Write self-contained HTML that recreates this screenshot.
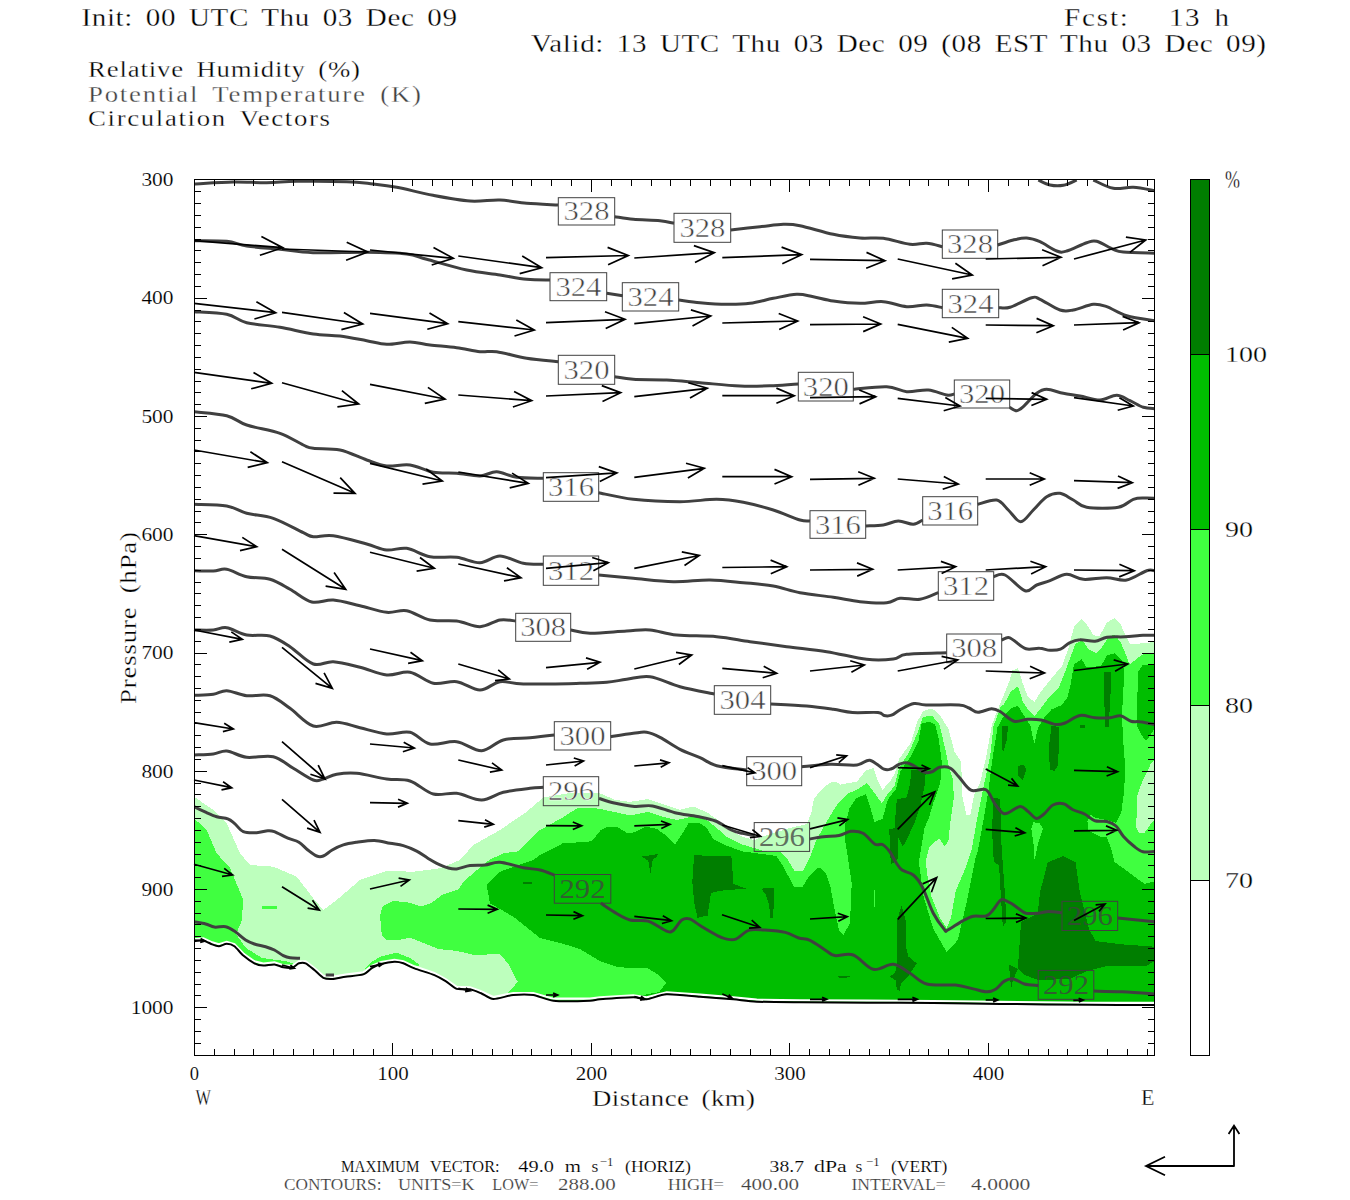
<!DOCTYPE html>
<html><head><meta charset="utf-8"><title>Cross section</title>
<style>html,body{margin:0;padding:0;background:#fff;}body{width:1350px;height:1200px;position:relative;overflow:hidden;font-family:"Liberation Serif",serif;}</style>
</head><body>
<svg width="1350" height="1200" viewBox="0 0 1350 1200" style="position:absolute;left:0;top:0" font-family="'Liberation Serif', serif">
<rect width="1350" height="1200" fill="#fff"/>
<clipPath id="cp"><rect x="194.5" y="179.5" width="960.0" height="876.0"/></clipPath>
<g clip-path="url(#cp)" shape-rendering="crispEdges">
<polygon fill="#BDFFBD" points="194.0,796.7 213.3,810.0 226.7,823.3 240.0,853.3 250.0,865.0 273.3,866.7 296.7,876.7 313.3,898.3 323.3,910.0 336.7,900.0 360.0,880.0 386.7,871.0 413.3,871.7 440.0,868.3 460.0,860.0 473.3,845.0 500.0,830.0 526.7,811.7 543.3,797.5 570.0,793.0 599.0,792.9 614.3,799.6 630.0,801.9 648.0,799.0 666.0,805.3 679.5,809.8 693.0,806.4 706.5,812.0 717.8,819.9 726.8,828.9 742.5,836.8 754.2,840.1 770.0,834.0 790.0,828.0 807.0,824.0 811.5,812.0 813.8,799.3 819.6,791.6 829.3,783.0 834.8,781.6 840.5,784.5 857.0,781.5 866.0,770.3 873.5,768.0 878.0,781.5 882.5,789.8 890.0,781.5 894.5,774.0 899.0,759.0 911.0,742.5 917.0,722.3 923.0,711.0 929.0,709.3 933.5,709.5 941.0,717.0 948.5,729.0 954.5,751.5 961.3,762.0 962.0,795.0 966.5,815.3 970.3,815.3 974.0,795.0 980.0,783.0 986.0,757.5 992.0,724.5 999.5,705.0 1003.5,696.0 1009.5,681.0 1012.5,670.5 1017.8,668.3 1023.0,684.0 1027.5,696.0 1034.3,702.0 1041.0,691.5 1053.0,676.5 1062.0,666.0 1068.0,649.5 1074.0,627.0 1081.5,618.8 1087.5,625.5 1093.5,635.3 1099.5,636.0 1107.0,622.5 1114.5,618.0 1120.5,624.0 1126.5,637.5 1130.3,644.3 1140.0,643.5 1154.5,642.0 1154.5,1004.9 1154.4,1004.9 1090.0,1004.8 1000.0,1003.9 933.3,1003.0 866.7,1002.7 800.0,1002.3 756.7,1001.7 733.3,999.3 700.0,996.7 666.7,994.3 646.7,999.3 633.3,997.3 600.0,999.3 590.0,1000.7 553.3,1000.7 533.3,995.0 513.3,995.0 493.3,999.0 481.1,993.3 470.0,989.3 456.7,988.9 445.6,981.1 434.4,975.1 414.4,968.4 403.3,963.3 394.4,961.8 381.1,964.0 372.2,967.8 363.3,974.4 345.6,976.7 332.2,978.9 323.3,977.8 314.4,970.0 305.6,963.3 298.9,963.3 292.2,967.8 283.3,967.3 274.4,964.4 263.3,965.6 254.4,963.3 243.3,955.6 234.4,946.2 226.7,943.8 218.9,946.2 212.2,944.4 203.3,940.4 194.0,941.3"/>
<polygon fill="#40FF40" points="194.0,818.3 206.7,830.0 216.7,853.3 230.0,868.0 243.3,900.0 241.7,921.0 236.0,934.0 246.0,948.0 262.0,958.0 285.0,961.0 300.0,966.0 293.3,967.3 273.3,965.0 256.7,964.0 246.7,955.0 233.3,945.0 220.0,946.0 205.0,941.7 194.0,942.7"/>
<polygon fill="#40FF40" points="262.0,906.0 277.0,906.0 277.0,909.0 262.0,909.0"/>
<polygon fill="#40FF40" points="361.7,973.0 370.0,963.0 380.0,956.7 396.7,952.7 410.0,958.0 420.0,965.0 413.3,968.3 395.0,961.7 376.7,966.0 363.3,974.3"/>
<polygon fill="#40FF40" points="392.4,901.1 406.7,902.0 420.9,906.4 431.6,902.9 442.2,894.9 458.2,889.6 463.6,881.6 476.0,870.9 490.2,859.3 504.4,853.1 518.7,851.3 531.1,838.9 540.0,830.0 562.5,817.6 578.3,807.5 598.5,808.6 614.3,812.0 630.0,815.4 648.0,812.0 666.0,817.6 677.3,819.9 693.0,816.5 706.5,819.9 717.8,828.9 726.8,836.8 742.5,844.6 754.2,848.0 765.0,851.4 780.8,852.5 787.5,859.3 794.3,870.5 803.3,870.5 810.0,857.0 816.8,839.0 830.3,815.5 837.5,804.0 848.0,793.5 857.0,789.8 866.8,783.0 875.0,793.5 881.8,803.3 887.0,795.0 894.5,786.0 899.0,768.0 909.5,751.5 918.5,730.5 923.0,717.0 932.0,715.5 939.5,724.5 945.5,750.0 948.5,765.0 953.0,780.0 953.8,798.0 950.0,825.0 948.5,840.0 944.8,846.8 939.5,838.5 933.5,843.0 929.0,847.5 926.0,859.5 926.7,871.1 931.1,895.6 940.0,917.8 946.7,927.8 951.1,917.8 955.6,891.1 965.5,868.0 972.0,848.0 976.0,825.0 980.5,802.0 985.0,780.0 990.0,757.0 993.5,726.0 1001.0,706.0 1003.5,705.0 1011.0,691.5 1017.8,686.3 1023.0,702.0 1029.0,711.0 1034.3,716.3 1041.0,708.0 1050.0,696.0 1059.0,687.0 1065.0,672.0 1071.0,655.5 1075.5,643.5 1082.3,640.5 1089.0,649.5 1096.5,653.3 1102.5,646.5 1108.5,636.8 1114.5,634.5 1120.5,642.0 1125.0,652.5 1129.5,664.5 1137.0,658.5 1144.5,653.3 1154.5,653.3 1154.5,1004.9 1154.4,1004.9 1090.0,1004.8 1000.0,1003.9 933.3,1003.0 866.7,1002.7 800.0,1002.3 756.7,1001.7 733.3,999.3 700.0,996.7 666.7,994.3 646.7,999.3 633.3,997.3 600.0,999.3 590.0,1000.7 553.3,1000.7 533.3,995.0 513.3,995.0 508.0,996.1 508.0,992.7 517.8,982.0 508.0,963.3 499.1,953.6 476.0,955.3 456.4,950.9 438.7,949.1 420.9,942.0 410.2,937.6 397.8,940.2 387.1,940.2 381.8,934.9 380.0,915.3 382.7,906.4"/>
<polygon fill="#00BE00" points="540.0,854.8 562.5,843.5 591.8,841.3 600.8,830.0 607.5,826.6 616.5,826.6 627.8,833.4 634.5,832.3 645.8,826.6 657.0,828.9 666.0,835.6 675.0,844.6 681.8,834.5 688.5,823.3 699.8,823.3 706.5,827.8 713.3,839.0 726.8,845.8 742.5,851.4 756.0,853.2 776.3,855.9 783.0,866.0 794.3,887.4 802.1,887.4 810.0,875.0 819.0,867.1 825.8,872.8 830.3,886.3 834.8,911.0 839.0,930.0 843.3,935.0 850.0,923.3 851.7,883.3 846.7,850.0 845.0,840.0 845.0,825.0 849.5,808.5 856.3,798.0 866.0,794.3 869.8,805.5 874.3,822.0 882.5,819.0 887.8,799.5 896.0,789.0 900.5,771.0 911.0,756.0 918.5,741.0 921.5,723.8 929.0,721.5 935.0,724.5 938.8,739.5 941.8,762.0 940.3,783.0 933.5,802.5 929.0,817.5 924.5,828.0 920.0,855.0 918.9,862.2 923.3,895.6 933.3,928.9 946.7,952.2 957.8,940.0 966.7,902.2 975.6,857.8 978.0,850.0 984.0,817.0 988.5,790.0 992.3,760.0 997.5,727.5 1005.0,714.0 1011.0,708.0 1017.8,705.8 1023.0,714.0 1030.5,726.0 1034.3,744.0 1038.0,727.5 1045.5,715.5 1051.5,709.5 1062.0,705.0 1067.3,697.5 1071.0,682.5 1074.0,664.5 1081.5,659.3 1086.8,667.5 1101.0,666.0 1107.0,655.5 1114.5,653.3 1122.0,660.0 1124.3,672.0 1122.0,714.0 1122.8,735.0 1125.0,765.0 1124.3,790.0 1121.3,812.5 1116.0,823.0 1107.0,820.0 1095.0,817.8 1090.5,814.8 1087.5,821.5 1087.5,830.5 1099.5,836.5 1107.0,837.3 1111.5,850.0 1114.5,862.0 1125.0,869.5 1137.0,878.5 1144.5,883.8 1154.5,881.5 1154.5,1004.9 1154.4,1004.9 1090.0,1004.8 1000.0,1003.9 933.3,1003.0 866.7,1002.7 800.0,1002.3 756.7,1001.7 733.3,999.3 700.0,996.7 666.7,994.3 646.7,999.3 641.0,998.4 641.3,995.4 659.3,992.0 666.0,983.0 657.0,974.0 648.0,968.4 618.8,967.3 600.8,961.6 580.5,949.3 562.5,943.6 540.0,938.0 513.3,916.7 490.0,903.3 486.7,885.0 500.0,871.7 533.3,860.0"/>
<polygon fill="#00BE00" points="1154.5,664.5 1143.0,664.5 1137.8,672.0 1137.0,726.0 1141.5,735.0 1146.0,741.0 1150.5,735.0 1154.5,729.0"/>
<polygon fill="#BDFFBD" points="1154.5,760.0 1150.5,764.5 1143.0,779.5 1137.0,796.0 1136.3,827.5 1139.3,833.5 1144.5,832.8 1150.5,824.5 1154.5,820.0"/>
<polygon fill="#40FF40" points="1033.5,822.3 1039.5,823.0 1043.0,828.3 1038.0,844.0 1034.6,860.5 1033.5,844.0 1031.3,829.0"/>
<polygon fill="#40FF40" points="873.5,890.0 874.7,890.0 874.7,907.0 873.5,907.0"/>
<polygon fill="#007E00" points="641.9,856.5 658.6,854.0 656.0,857.5 652.8,859.5 650.5,872.8 648.3,861.0 645.0,858.8"/>
<polygon fill="#007E00" points="694.1,855.4 731.3,855.9 733.5,884.0 745.9,888.5 720.0,890.8 711.0,893.0 707.6,915.5 697.5,917.8 694.1,902.0 692.3,881.8"/>
<polygon fill="#007E00" points="761.4,888.6 774.0,888.0 773.3,917.5 770.5,917.5 769.0,905.0 766.0,895.0"/>
<polygon fill="#007E00" points="523.0,882.0 532.0,882.0 532.0,883.5 523.0,883.5"/>
<polygon fill="#007E00" points="911.0,769.5 926.0,769.5 924.5,786.0 920.0,807.0 915.5,820.5 908.0,837.0 902.8,846.8 898.3,837.8 897.5,859.5 890.8,864.8 889.3,829.5 894.5,828.0 896.8,799.5 906.5,797.3 910.3,783.0"/>
<polygon fill="#007E00" points="901.5,905.5 905.6,920.0 905.6,944.8 908.5,956.7 916.7,963.3 908.5,975.9 901.1,983.3 899.6,990.7 896.7,989.3 895.9,980.4 889.3,976.7 895.2,973.0 897.4,962.6 897.4,919.6"/>
<polygon fill="#007E00" points="838.0,976.3 850.0,976.3 846.0,978.0 840.0,978.0"/>
<polygon fill="#007E00" points="1002.0,726.0 1008.0,726.0 1006.8,740.0 1002.6,753.8"/>
<polygon fill="#007E00" points="1017.5,765.8 1023.5,765.0 1026.5,768.8 1022.8,780.0 1018.3,775.5"/>
<polygon fill="#007E00" points="992.8,798.0 1000.3,798.8 1001.3,842.5 1005.0,895.0 1006.5,922.0 1002.8,926.5 1001.3,902.5 999.0,865.0 993.8,862.0 992.3,835.0"/>
<polygon fill="#007E00" points="1051.5,726.0 1059.0,726.8 1058.3,765.0 1054.5,771.0 1049.6,769.5 1049.3,744.0"/>
<polygon fill="#007E00" points="1104.0,671.7 1111.5,671.7 1110.0,705.0 1108.5,726.8 1104.8,726.8"/>
<polygon fill="#007E00" points="1080.0,725.3 1084.5,725.3 1084.5,728.3 1080.0,728.3"/>
<polygon fill="#007E00" points="1017.8,968.9 1021.1,922.2 1037.8,913.3 1040.0,892.2 1047.8,862.2 1063.3,856.0 1075.6,862.2 1080.0,893.3 1088.9,928.9 1095.6,941.1 1122.2,944.4 1154.5,946.7 1154.5,961.1 1146.7,965.6 1108.9,965.6 1086.7,971.1 1070.0,979.0 1038.0,980.0 1025.0,975.0"/>
<polygon fill="#007E00" points="1008.9,964.4 1017.8,968.9 1013.0,980.0 1011.1,988.9"/>
<polygon fill="#fff" points="194.0,941.3 203.3,940.4 212.2,944.4 218.9,946.2 226.7,943.8 234.4,946.2 243.3,955.6 254.4,963.3 263.3,965.6 274.4,964.4 283.3,967.3 292.2,967.8 298.9,963.3 305.6,963.3 314.4,970.0 323.3,977.8 332.2,978.9 345.6,976.7 363.3,974.4 372.2,967.8 381.1,964.0 394.4,961.8 403.3,963.3 414.4,968.4 434.4,975.1 445.6,981.1 456.7,988.9 470.0,989.3 481.1,993.3 493.3,999.0 513.3,995.0 533.3,995.0 553.3,1000.7 590.0,1000.7 600.0,999.3 633.3,997.3 646.7,999.3 666.7,994.3 700.0,996.7 733.3,999.3 756.7,1001.7 800.0,1002.3 866.7,1002.7 933.3,1003.0 1000.0,1003.9 1090.0,1004.8 1154.4,1004.9 1156.0,1060.0 192.0,1060.0"/>
</g>
<g clip-path="url(#cp)">
<polyline fill="none" stroke="#fff" stroke-width="2.2" points="194.0,939.3 203.3,938.4 212.2,942.4 218.9,944.2 226.7,941.8 234.4,944.2 243.3,953.6 254.4,961.3 263.3,963.6 274.4,962.4 283.3,965.3 292.2,965.8 298.9,961.3 305.6,961.3 314.4,968.0 323.3,975.8 332.2,976.9 345.6,974.7 363.3,972.4 372.2,965.8 381.1,962.0 394.4,959.8 403.3,961.3 414.4,966.4 434.4,973.1 445.6,979.1 456.7,986.9 470.0,987.3 481.1,991.3 493.3,997.0 513.3,993.0 533.3,993.0 553.3,998.7 590.0,998.7 600.0,997.3 633.3,995.3 646.7,997.3 666.7,992.3 700.0,994.7 733.3,997.3 756.7,999.7 800.0,1000.3 866.7,1000.7 933.3,1001.0 1000.0,1001.9 1090.0,1002.8 1154.4,1002.9"/>
<g fill="none" stroke="#404040" stroke-width="3" stroke-linejoin="round" stroke-linecap="butt">
<path d="M1038.3,180.0C1040.2,180.8 1045.8,184.1 1050.0,185.0C1054.2,185.9 1058.8,186.1 1063.3,185.3C1067.8,184.5 1074.5,180.9 1076.7,180.0"/>
<path d="M1093.3,180.0C1096.6,181.4 1106.6,187.1 1113.3,188.3C1120.0,189.5 1126.4,186.9 1133.3,187.3C1140.2,187.7 1151.1,190.1 1154.7,190.7"/>
<path d="M194.0,184.0C200.6,183.7 221.2,182.2 233.3,182.0C245.4,181.8 256.1,182.8 266.7,182.7C277.3,182.6 283.4,181.5 296.7,181.3C310.0,181.1 334.0,181.2 346.7,181.7C359.4,182.1 364.7,183.1 373.0,184.0C381.3,184.9 386.7,185.4 396.7,187.3C406.7,189.2 420.8,193.0 433.0,195.3C445.2,197.6 458.8,200.2 470.0,201.0C481.2,201.8 490.6,199.6 500.0,200.0C509.4,200.4 517.0,202.5 526.7,203.3C536.4,204.1 552.8,204.7 558.0,205.0"/>
<path d="M614.7,216.7C617.8,217.1 625.8,218.6 633.3,219.3C640.8,220.0 653.2,220.0 660.0,220.7C666.8,221.4 671.7,222.9 674.0,223.3"/>
<path d="M730.7,230.0C735.6,229.4 751.2,227.6 760.0,226.7C768.8,225.8 776.6,224.5 783.3,224.3C790.0,224.1 791.7,224.0 800.0,225.7C808.3,227.4 823.3,232.2 833.3,234.3C843.3,236.4 851.7,237.3 860.0,238.0C868.3,238.7 875.0,237.2 883.3,238.3C891.6,239.4 902.8,243.5 910.0,244.3C917.2,245.1 921.3,242.9 926.7,243.3C932.1,243.7 939.7,246.1 942.3,246.7"/>
<path d="M997.7,245.0C1000.3,244.2 1008.5,241.2 1013.3,240.0C1018.1,238.8 1022.2,237.7 1026.7,238.0C1031.2,238.3 1035.0,239.5 1040.0,241.7C1045.0,243.9 1052.2,249.4 1056.7,251.0C1061.2,252.6 1061.7,252.4 1066.7,251.0C1071.7,249.6 1081.7,244.3 1086.7,242.7C1091.7,241.1 1092.3,240.2 1096.7,241.3C1101.1,242.4 1108.9,247.5 1113.3,249.3C1117.7,251.1 1116.4,251.3 1123.3,252.0C1130.2,252.7 1149.5,253.1 1154.7,253.3"/>
<path d="M194.0,240.7C199.4,240.8 217.9,240.4 226.7,241.3C235.5,242.2 237.8,244.7 246.7,246.0C255.6,247.3 268.9,248.2 280.0,249.3C291.1,250.4 298.6,252.2 313.0,252.7C327.4,253.2 351.1,252.1 366.7,252.3C382.3,252.5 396.7,252.8 406.7,254.0C416.7,255.2 416.7,256.6 426.7,259.3C436.7,262.0 454.5,267.4 466.7,270.0C478.9,272.6 490.0,273.4 500.0,275.0C510.0,276.6 518.4,278.5 526.7,279.3C535.0,280.1 546.1,279.9 550.0,280.0"/>
<path d="M606.7,293.3L622.7,295.7"/>
<path d="M678.7,300.0C682.2,300.4 692.0,302.0 700.0,302.7C708.0,303.4 718.4,304.2 726.7,304.3C735.0,304.4 742.2,304.3 750.0,303.3C757.8,302.3 765.5,299.8 773.3,298.3C781.1,296.8 790.0,294.6 796.7,294.3C803.4,294.0 807.2,295.6 813.3,296.7C819.4,297.8 825.5,299.9 833.3,301.0C841.1,302.1 851.7,303.2 860.0,303.3C868.3,303.4 875.5,301.1 883.3,301.7C891.1,302.3 899.5,306.1 906.7,306.7C913.9,307.2 920.8,304.8 926.7,305.0C932.6,305.2 939.7,307.2 942.3,307.7"/>
<path d="M998.7,307.7C1000.6,307.6 1004.5,309.0 1010.0,307.3C1015.5,305.6 1026.7,299.0 1031.7,297.7C1036.7,296.4 1035.3,297.2 1040.0,299.3C1044.7,301.4 1054.5,308.2 1060.0,310.0C1065.5,311.8 1067.8,310.9 1073.3,310.0C1078.8,309.1 1087.7,304.9 1093.3,304.3C1098.9,303.8 1101.1,304.8 1106.7,306.7C1112.3,308.6 1118.7,313.4 1126.7,315.7C1134.7,318.0 1150.0,319.9 1154.7,320.7"/>
<path d="M194.0,311.7C199.4,312.1 217.9,312.5 226.7,314.3C235.5,316.1 237.8,320.5 246.7,322.7C255.6,324.9 268.9,325.4 280.0,327.3C291.1,329.2 303.3,332.6 313.3,334.0C323.3,335.4 331.1,334.9 340.0,336.0C348.9,337.1 358.9,339.3 366.7,340.7C374.5,342.1 379.5,344.1 386.7,344.3C393.9,344.5 402.8,341.9 410.0,342.0C417.2,342.1 422.2,344.1 430.0,345.0C437.8,345.9 448.4,346.6 456.7,347.7C465.0,348.8 473.3,351.0 480.0,351.7C486.7,352.4 488.9,350.6 496.7,351.7C504.5,352.8 516.4,356.6 526.7,358.3C537.0,360.0 553.0,361.1 558.3,361.7"/>
<path d="M614.7,376.7C617.8,377.1 624.6,378.8 633.3,379.3C642.0,379.9 655.6,379.4 666.7,380.0C677.8,380.6 687.8,381.7 700.0,382.7C712.2,383.7 727.8,385.5 740.0,386.0C752.2,386.5 763.6,386.0 773.3,385.7C783.0,385.4 794.1,384.3 798.3,384.0"/>
<path d="M853.3,389.3C858.9,388.9 877.8,386.3 886.7,386.7C895.6,387.1 899.8,391.1 906.7,391.7C913.6,392.2 921.6,389.4 928.3,390.0C935.0,390.6 942.4,394.3 946.7,395.0C951.0,395.7 953.0,394.2 954.3,394.0"/>
<path d="M1009.7,407.3C1010.9,407.9 1014.4,410.8 1016.7,410.7C1019.0,410.6 1020.0,409.6 1023.3,406.7C1026.6,403.8 1032.8,396.2 1036.7,393.3C1040.6,390.4 1042.3,389.3 1046.7,389.3C1051.1,389.3 1057.8,392.2 1063.3,393.3C1068.8,394.4 1073.9,394.9 1080.0,396.0C1086.1,397.1 1093.9,400.1 1100.0,400.0C1106.1,399.9 1111.7,395.2 1116.7,395.3C1121.7,395.4 1125.6,398.7 1130.0,400.7C1134.4,402.7 1139.2,406.0 1143.3,407.3C1147.4,408.6 1152.8,408.5 1154.7,408.7"/>
<path d="M194.0,411.7C199.4,412.4 217.9,413.5 226.7,415.7C235.5,417.9 237.8,422.1 246.7,425.0C255.6,427.9 270.6,430.0 280.0,433.3C289.4,436.6 297.8,442.5 303.3,445.0C308.9,447.5 307.2,447.5 313.3,448.3C319.4,449.1 331.1,448.1 340.0,450.0C348.9,451.9 358.9,457.3 366.7,460.0C374.5,462.7 379.5,465.2 386.7,466.0C393.9,466.8 402.2,463.9 410.0,465.0C417.8,466.1 425.5,470.9 433.3,472.3C441.1,473.7 448.9,472.7 456.7,473.3C464.5,473.9 473.3,476.3 480.0,476.0C486.7,475.7 490.6,471.5 496.7,471.7C502.8,471.9 508.9,476.2 516.7,477.3C524.5,478.4 538.9,478.1 543.3,478.3"/>
<path d="M598.7,492.7C604.5,493.8 619.8,497.8 633.3,499.3C646.8,500.8 666.1,501.7 680.0,501.7C693.9,501.7 706.2,499.2 716.7,499.3C727.2,499.4 733.9,500.5 743.3,502.3C752.7,504.1 763.8,507.1 773.3,510.0C782.8,513.0 793.9,518.2 800.0,520.0C806.1,521.8 808.3,520.8 810.0,521.0"/>
<path d="M865.7,526.0C868.6,525.8 877.9,525.8 883.3,525.0C888.7,524.2 893.3,521.1 898.3,521.0C903.3,520.9 909.2,524.5 913.3,524.3C917.4,524.1 921.1,520.7 922.7,520.0"/>
<path d="M977.7,504.3C980.9,503.6 991.6,499.1 996.7,500.0C1001.8,500.9 1004.3,506.4 1008.3,510.0C1012.3,513.6 1016.5,521.7 1020.7,521.7C1024.9,521.7 1029.0,514.2 1033.3,510.0C1037.6,505.8 1042.2,499.5 1046.7,496.7C1051.2,493.9 1055.6,492.8 1060.0,493.3C1064.4,493.9 1068.8,497.7 1073.3,500.0C1077.8,502.3 1079.2,506.1 1086.7,507.3C1094.2,508.5 1110.5,508.6 1118.3,507.3C1126.1,506.0 1128.8,500.9 1133.3,499.3C1137.8,497.8 1141.4,498.2 1145.0,498.0C1148.6,497.8 1153.1,498.2 1154.7,498.3"/>
<path d="M194.0,504.3C199.4,504.6 217.9,504.5 226.7,506.0C235.5,507.5 238.9,511.2 246.7,513.3C254.5,515.3 263.9,515.1 273.3,518.3C282.7,521.5 296.6,529.6 303.3,532.7C310.0,535.8 308.3,536.2 313.3,536.7C318.3,537.2 324.4,534.5 333.3,535.7C342.2,536.9 357.8,541.6 366.7,544.0C375.6,546.4 380.0,549.3 386.7,550.0C393.4,550.7 399.5,547.2 406.7,548.3C413.9,549.4 421.7,555.2 430.0,556.7C438.3,558.2 448.4,556.3 456.7,557.3C465.0,558.3 472.8,562.9 480.0,562.7C487.2,562.5 492.8,555.9 500.0,556.0C507.2,556.1 516.1,561.9 523.3,563.3C530.5,564.7 540.0,564.1 543.3,564.3"/>
<path d="M598.7,575.0C604.5,575.5 620.9,577.2 633.3,578.3C645.7,579.4 660.5,581.4 673.3,581.7C686.1,582.0 698.3,579.8 710.0,580.0C721.7,580.2 732.8,581.7 743.3,582.7C753.8,583.7 763.8,584.3 773.3,586.0C782.8,587.7 790.0,590.8 800.0,592.7C810.0,594.6 823.3,595.8 833.3,597.3C843.3,598.8 851.1,600.8 860.0,601.7C868.9,602.6 880.0,603.3 886.7,602.7C893.4,602.1 894.5,598.9 900.0,598.3C905.5,597.7 913.6,600.2 920.0,599.3C926.4,598.4 935.2,593.8 938.3,592.7"/>
<path d="M993.7,576.7C995.6,576.4 999.8,572.7 1005.0,575.0C1010.2,577.3 1019.7,589.0 1025.0,590.7C1030.3,592.4 1032.5,586.7 1036.7,585.0C1040.9,583.3 1045.0,582.5 1050.0,580.7C1055.0,578.9 1061.2,574.5 1066.7,574.3C1072.2,574.1 1076.6,578.7 1083.3,579.3C1090.0,579.9 1099.5,577.6 1106.7,577.7C1113.9,577.8 1120.0,581.2 1126.7,580.0C1133.4,578.8 1142.0,572.2 1146.7,570.7C1151.4,569.2 1153.4,570.7 1154.7,570.7"/>
<path d="M194.0,570.7C197.2,570.8 207.9,571.2 213.3,571.0C218.8,570.8 221.1,568.3 226.7,569.3C232.3,570.2 239.5,575.0 246.7,576.7C253.9,578.4 262.8,577.2 270.0,579.3C277.2,581.4 283.1,585.5 290.0,589.3C296.9,593.1 304.5,600.2 311.7,602.0C318.9,603.8 325.2,599.4 333.3,600.0C341.4,600.6 351.1,603.7 360.0,605.7C368.9,607.8 378.9,611.5 386.7,612.3C394.5,613.1 399.5,609.4 406.7,610.7C413.9,612.0 421.7,618.3 430.0,620.0C438.3,621.7 448.4,619.9 456.7,621.0C465.0,622.1 472.8,626.9 480.0,626.7C487.2,626.5 494.1,621.0 500.0,620.0C505.9,619.0 513.1,620.8 515.7,621.0"/>
<path d="M570.7,630.0C573.9,630.5 580.7,633.1 590.0,633.3C599.3,633.5 616.7,631.5 626.7,631.0C636.7,630.5 641.7,629.3 650.0,630.0C658.3,630.7 665.6,633.9 676.7,635.0C687.8,636.1 704.5,635.6 716.7,636.7C728.9,637.8 738.3,640.0 750.0,641.7C761.7,643.4 773.9,645.0 786.7,646.7C799.5,648.4 813.4,649.6 826.7,651.7C840.0,653.8 855.6,658.1 866.7,659.3C877.8,660.5 886.6,659.8 893.3,659.0C900.0,658.2 897.8,655.3 906.7,654.3C915.6,653.2 940.0,653.0 946.7,652.7"/>
<path d="M1001.7,640.0C1002.8,639.6 1006.2,637.4 1008.3,637.5C1010.3,637.6 1011.0,638.6 1014.0,640.5C1017.0,642.4 1021.8,647.5 1026.0,648.8C1030.2,650.1 1035.5,648.0 1039.5,648.3C1043.5,648.5 1046.5,650.1 1050.0,650.3C1053.5,650.4 1057.2,650.5 1060.5,649.2C1063.8,648.0 1066.2,644.4 1069.5,642.8C1072.8,641.2 1075.8,640.0 1080.0,639.8C1084.2,639.5 1090.5,641.7 1095.0,641.3C1099.5,640.9 1102.0,638.0 1107.0,637.2C1112.0,636.5 1119.0,637.1 1125.0,636.8C1131.0,636.5 1138.1,635.5 1143.0,635.3C1147.9,635.0 1152.6,635.3 1154.5,635.3"/>
<path d="M194.0,630.0C197.2,630.0 207.9,630.4 213.3,630.0C218.8,629.6 221.1,626.9 226.7,627.7C232.3,628.5 239.5,633.6 246.7,635.0C253.9,636.4 262.8,634.0 270.0,636.0C277.2,638.0 282.8,642.0 290.0,646.7C297.2,651.4 306.1,661.5 313.3,664.0C320.5,666.5 325.5,661.2 333.3,661.7C341.1,662.2 351.1,665.1 360.0,667.3C368.9,669.5 378.4,674.2 386.7,675.0C395.0,675.8 402.2,670.9 410.0,672.3C417.8,673.7 425.5,681.7 433.3,683.3C441.1,684.9 448.9,680.6 456.7,681.7C464.5,682.8 472.8,690.0 480.0,690.0C487.2,690.0 492.8,682.7 500.0,681.7C507.2,680.7 510.0,683.7 523.3,684.0C536.6,684.3 566.1,683.6 580.0,683.3C593.9,683.0 598.9,683.0 606.7,682.3C614.5,681.6 619.5,680.2 626.7,679.3C633.9,678.4 641.1,675.5 650.0,676.7C658.9,677.9 669.3,683.8 680.0,686.7C690.7,689.6 708.6,692.8 714.3,694.0"/>
<path d="M770.7,704.0C776.7,704.3 796.3,705.1 806.7,706.0C817.1,706.9 825.7,708.2 833.3,709.3C840.9,710.4 845.0,712.0 852.5,712.5C860.0,713.0 872.8,712.0 878.0,712.5C883.2,713.0 881.8,715.0 884.0,715.5C886.2,716.0 888.8,716.2 891.5,715.2C894.2,714.2 896.8,711.5 900.5,709.5C904.2,707.5 909.8,704.2 914.0,703.5C918.2,702.8 918.5,704.8 926.0,705.0C933.5,705.2 951.8,704.5 959.0,705.0C966.2,705.5 965.8,706.8 969.0,708.0C972.2,709.2 974.2,712.1 978.0,712.2C981.8,712.3 987.8,708.9 991.5,708.8C995.2,708.7 996.8,709.7 1000.5,711.8C1004.2,713.9 1009.5,720.0 1014.0,721.2C1018.5,722.5 1023.0,719.5 1027.5,719.3C1032.0,719.1 1036.2,719.1 1041.0,720.0C1045.8,720.9 1052.0,724.0 1056.0,724.5C1060.0,725.0 1061.0,724.5 1065.0,723.0C1069.0,721.5 1075.0,716.4 1080.0,715.5C1085.0,714.6 1090.0,717.4 1095.0,717.8C1100.0,718.2 1105.8,718.1 1110.0,717.8C1114.2,717.5 1117.0,715.2 1120.5,715.8C1124.0,716.4 1127.8,720.2 1131.0,721.2C1134.2,722.2 1136.1,721.2 1140.0,721.8C1143.9,722.3 1152.1,724.0 1154.5,724.5"/>
<path d="M194.0,695.3C197.2,695.1 207.9,695.1 213.3,694.3C218.8,693.5 221.1,690.5 226.7,690.7C232.3,690.9 239.5,694.9 246.7,695.7C253.9,696.5 262.8,693.6 270.0,695.7C277.2,697.8 282.8,703.2 290.0,708.3C297.2,713.3 305.5,723.7 313.3,726.0C321.1,728.3 328.9,722.0 336.7,722.3C344.5,722.6 351.7,725.8 360.0,727.7C368.3,729.7 378.4,733.2 386.7,734.0C395.0,734.8 402.8,730.6 410.0,732.3C417.2,734.0 422.2,742.4 430.0,744.0C437.8,745.6 448.1,740.6 456.7,741.7C465.3,742.8 473.9,751.0 481.7,750.7C489.5,750.4 495.2,742.2 503.3,740.0C511.4,737.8 521.5,738.5 530.0,737.7C538.5,736.9 550.2,735.5 554.3,735.0"/>
<path d="M610.7,736.7C614.5,736.1 627.3,734.0 633.3,733.3C639.3,732.6 642.2,731.6 646.7,732.3C651.2,733.0 654.5,734.5 660.0,737.3C665.5,740.1 673.3,745.9 680.0,749.3C686.7,752.7 693.9,755.0 700.0,757.7C706.1,760.4 708.9,763.7 716.7,765.7C724.5,767.8 741.7,769.3 746.7,770.0"/>
<path d="M801.7,766.7C806.4,766.3 820.8,764.6 830.0,764.3C839.2,764.0 850.4,765.7 857.0,765.0C863.6,764.3 865.3,759.5 869.8,760.2C874.3,760.9 880.4,767.8 884.0,769.2C887.6,770.6 889.0,769.6 891.5,768.8C894.0,768.0 896.5,765.3 899.0,764.3C901.5,763.3 904.0,762.5 906.5,762.8C909.0,763.0 911.0,764.2 914.0,765.8C917.0,767.4 921.5,771.2 924.5,772.2C927.5,773.2 929.5,772.6 932.0,771.8C934.5,771.0 936.5,767.9 939.5,767.3C942.5,766.7 946.8,766.4 950.0,768.0C953.2,769.6 955.5,773.3 959.0,777.0C962.5,780.7 966.5,788.1 971.0,790.2C975.5,792.3 982.0,787.5 986.0,789.8C990.0,792.1 992.2,800.1 995.0,804.0C997.8,807.9 1000.2,811.5 1002.5,813.0C1004.8,814.5 1005.6,813.8 1008.5,812.7C1011.4,811.6 1016.8,806.8 1020.0,806.5C1023.2,806.2 1024.8,809.0 1027.5,811.0C1030.2,813.0 1033.8,818.0 1036.5,818.5C1039.2,819.0 1041.2,816.2 1044.0,814.0C1046.8,811.8 1049.8,806.7 1053.0,805.0C1056.2,803.3 1060.2,803.0 1063.5,803.8C1066.8,804.5 1069.0,807.8 1072.5,809.5C1076.0,811.2 1080.8,812.1 1084.5,814.0C1088.2,815.9 1091.2,819.5 1095.0,820.8C1098.8,822.0 1103.5,820.6 1107.0,821.5C1110.5,822.4 1113.2,823.5 1116.0,826.0C1118.8,828.5 1120.5,833.1 1123.5,836.5C1126.5,839.9 1130.8,843.8 1134.0,846.3C1137.2,848.8 1139.6,850.9 1143.0,851.8C1146.4,852.7 1152.6,851.5 1154.5,851.5"/>
<path d="M194.0,755.0C197.2,754.8 207.9,754.7 213.3,754.0C218.8,753.3 221.1,750.5 226.7,751.0C232.3,751.5 238.9,756.3 246.7,757.3C254.5,758.2 265.5,754.9 273.3,756.7C281.1,758.5 286.6,764.4 293.3,768.3C300.0,772.2 308.3,778.2 313.3,780.0C318.3,781.8 319.4,780.0 323.3,779.0C327.2,778.0 331.1,775.2 336.7,774.3C342.3,773.3 348.4,772.5 356.7,773.3C365.0,774.1 377.8,777.7 386.7,779.0C395.6,780.3 402.2,778.5 410.0,781.0C417.8,783.5 425.5,792.0 433.3,794.0C441.1,796.0 448.6,792.3 456.7,793.3C464.8,794.3 473.9,800.2 481.7,800.0C489.5,799.8 495.2,794.2 503.3,792.3C511.4,790.3 523.3,789.1 530.0,788.3C536.7,787.5 541.1,787.5 543.3,787.3"/>
<path d="M599.0,798.5C601.5,799.2 608.4,801.7 614.3,803.0C620.2,804.3 628.1,805.9 634.5,806.4C640.9,806.9 645.8,804.8 652.5,805.9C659.2,807.0 667.5,810.9 675.0,812.7C682.5,814.5 690.8,815.1 697.5,816.5C704.2,817.9 709.9,818.8 715.5,821.0C721.1,823.2 726.8,827.9 731.3,830.0C735.8,832.1 738.7,832.5 742.5,833.4C746.3,834.3 752.2,835.2 754.2,835.6"/>
<path d="M809.6,839.0C811.9,838.6 818.6,837.4 823.5,836.8C828.4,836.2 834.4,836.4 839.0,835.5C843.6,834.6 847.0,831.7 851.0,831.3C855.0,830.9 859.0,831.1 863.0,833.3C867.0,835.4 871.8,842.3 875.0,844.2C878.2,846.1 880.0,843.2 882.5,844.5C885.0,845.8 887.8,849.0 890.0,852.0C892.2,855.0 894.0,859.5 896.0,862.5C898.0,865.5 899.1,867.9 902.0,870.0C904.9,872.1 909.9,872.2 913.3,875.0C916.7,877.8 918.9,880.3 922.2,886.7C925.5,893.1 929.6,906.1 933.3,913.3C937.0,920.4 942.0,926.8 944.4,929.6C946.8,932.4 944.8,931.4 947.8,930.0C950.8,928.6 958.0,923.4 962.2,921.1C966.5,918.8 969.3,917.1 973.3,916.2C977.3,915.4 983.0,917.0 986.3,916.0C989.6,915.0 990.9,912.4 993.0,910.0C995.1,907.6 997.4,903.5 999.0,901.8C1000.6,900.0 1000.8,899.2 1002.8,899.5C1004.8,899.8 1008.4,901.8 1011.0,903.3C1013.6,904.8 1016.0,906.8 1018.5,908.5C1021.0,910.2 1022.5,912.5 1026.0,913.3C1029.5,914.0 1035.8,913.3 1039.5,913.0C1043.2,912.7 1044.8,911.5 1048.5,911.5C1052.2,911.5 1059.8,912.5 1062.0,912.7"/>
<path d="M1117.7,918.0L1154.5,921.7"/>
<path d="M194.0,806.5C195.9,807.5 201.8,810.5 205.6,812.2C209.4,813.9 213.0,815.6 216.7,816.7C220.4,817.8 224.9,817.8 227.8,818.9C230.8,820.0 231.8,821.2 234.4,823.3C237.0,825.4 239.6,830.0 243.3,831.6C247.0,833.2 252.6,832.9 256.7,832.7C260.8,832.6 264.9,830.9 267.8,830.7C270.8,830.5 271.1,830.4 274.4,831.6C277.7,832.9 283.7,836.4 287.8,838.2C291.9,840.0 295.6,840.2 298.9,842.2C302.2,844.2 304.8,847.7 307.8,850.0C310.8,852.3 314.1,855.0 316.7,856.0C319.3,857.0 320.7,857.0 323.3,856.0C325.9,855.0 328.9,851.9 332.2,850.0C335.5,848.1 339.2,846.2 343.3,844.9C347.4,843.6 351.5,843.0 356.7,842.2C361.9,841.5 368.8,840.2 374.4,840.4C379.9,840.6 385.2,842.4 390.0,843.3C394.8,844.2 398.9,844.3 403.3,845.6C407.8,846.9 412.6,849.0 416.7,851.1C420.8,853.2 424.5,856.2 427.8,858.2C431.1,860.2 433.4,861.7 436.7,863.3C440.0,864.9 444.5,866.9 447.8,867.8C451.1,868.7 453.0,869.3 456.7,868.9C460.4,868.5 465.3,866.2 470.0,865.6C474.7,865.0 480.0,865.5 485.0,865.0C490.0,864.5 493.6,861.8 500.0,862.3C506.4,862.8 516.6,866.4 523.3,867.7C530.0,869.0 534.8,868.8 540.0,870.0C545.2,871.2 551.9,874.2 554.3,875.0"/>
<path d="M600.8,903.1C603.0,904.6 609.4,909.3 614.3,912.1C619.2,914.9 624.4,918.5 630.0,920.0C635.6,921.5 642.0,919.3 648.0,921.1C654.0,922.9 661.9,929.2 666.0,930.8C670.1,932.4 670.2,932.6 672.8,930.8C675.4,929.0 679.0,922.0 681.8,920.0C684.6,918.0 686.2,917.8 689.6,918.9C693.0,920.0 697.3,924.0 702.0,926.8C706.7,929.6 713.7,933.8 717.8,935.8C721.9,937.8 723.8,938.5 726.8,939.1C729.8,939.7 732.0,940.6 735.8,939.1C739.5,937.6 744.4,931.6 749.3,930.1C754.2,928.6 759.0,929.7 765.0,930.1C771.0,930.5 779.7,931.1 785.3,932.4C790.9,933.7 794.7,936.7 798.8,938.0C802.9,939.3 805.5,938.2 810.0,940.3C814.5,942.4 821.7,947.8 825.8,950.4C829.9,953.0 830.2,954.8 834.8,955.6C839.4,956.4 846.9,952.7 853.3,955.0C859.7,957.3 866.6,967.8 873.3,969.3C880.0,970.8 887.2,963.6 893.3,964.3C899.4,965.0 904.4,970.0 910.0,973.3C915.6,976.6 919.1,982.0 926.7,984.0C934.3,986.0 947.8,984.3 955.6,985.1C963.4,985.9 968.1,987.8 973.3,988.9C978.5,990.0 983.0,991.7 986.7,991.8C990.4,991.9 992.7,991.1 995.6,989.3C998.5,987.5 1001.5,982.8 1004.4,981.1C1007.3,979.4 1010.0,978.4 1013.3,978.9C1016.6,979.4 1020.3,982.9 1024.4,984.0C1028.6,985.1 1035.9,985.3 1038.2,985.6"/>
<path d="M1093.8,991.1C1098.5,991.2 1112.1,991.3 1122.2,991.8C1132.3,992.3 1149.1,993.6 1154.5,994.0"/>
<path d="M194.0,921.8C195.9,922.2 202.2,923.1 205.6,924.0C209.0,924.9 211.1,926.6 214.4,927.1C217.7,927.6 222.3,926.0 225.6,926.7C228.9,927.4 231.1,928.9 234.4,931.1C237.7,933.3 242.3,937.9 245.6,940.0C248.9,942.1 251.1,942.9 254.4,944.0C257.7,945.1 262.3,945.7 265.6,946.7C268.9,947.7 271.4,948.5 274.4,950.0C277.3,951.5 280.7,954.3 283.3,955.6C285.9,956.9 287.2,957.4 290.0,957.8C292.8,958.2 298.3,958.1 300.0,958.2"/>
<path d="M325.7,975.0L334.0,975.0"/>
</g>
<path fill="none" stroke="#000" stroke-width="2" stroke-linejoin="round" d="M194.0,941.3C195.1,941.2 201.2,940.0 203.3,940.4C205.4,940.8 210.4,943.7 212.2,944.4C214.0,945.1 217.2,946.3 218.9,946.2C220.6,946.1 224.9,943.8 226.7,943.8C228.5,943.8 232.5,944.8 234.4,946.2C236.3,947.6 241.0,953.6 243.3,955.6C245.6,957.6 252.1,962.1 254.4,963.3C256.7,964.5 261.0,965.5 263.3,965.6C265.6,965.7 272.1,964.2 274.4,964.4C276.7,964.6 281.2,966.9 283.3,967.3C285.4,967.7 290.4,968.3 292.2,967.8C294.0,967.3 297.3,963.8 298.9,963.3C300.5,962.8 303.8,962.5 305.6,963.3C307.4,964.1 312.3,968.3 314.4,970.0C316.5,971.7 321.2,976.8 323.3,977.8C325.4,978.8 329.6,979.0 332.2,978.9C334.8,978.8 342.0,977.2 345.6,976.7C349.2,976.2 360.2,975.4 363.3,974.4C366.4,973.4 370.1,969.0 372.2,967.8C374.3,966.6 378.5,964.7 381.1,964.0C383.7,963.3 391.8,961.9 394.4,961.8C397.0,961.7 401.0,962.5 403.3,963.3C405.6,964.1 410.8,967.0 414.4,968.4C418.0,969.8 430.8,973.6 434.4,975.1C438.0,976.6 443.0,979.5 445.6,981.1C448.2,982.7 453.9,987.9 456.7,988.9C459.5,989.9 467.2,988.8 470.0,989.3C472.8,989.8 478.4,992.2 481.1,993.3C483.8,994.4 489.5,998.8 493.3,999.0C497.1,999.2 508.6,995.5 513.3,995.0C518.0,994.5 528.6,994.3 533.3,995.0C538.0,995.7 546.7,1000.0 553.3,1000.7C559.9,1001.4 584.6,1000.9 590.0,1000.7C595.4,1000.5 594.9,999.7 600.0,999.3C605.1,998.9 627.9,997.3 633.3,997.3C638.7,997.3 642.8,999.6 646.7,999.3C650.6,998.9 660.5,994.6 666.7,994.3C672.9,994.0 692.2,996.1 700.0,996.7C707.8,997.3 726.7,998.7 733.3,999.3C739.9,999.9 748.9,1001.4 756.7,1001.7C764.5,1002.1 787.2,1002.2 800.0,1002.3C812.8,1002.4 851.1,1002.6 866.7,1002.7C882.3,1002.8 917.7,1002.9 933.3,1003.0C948.9,1003.1 981.7,1003.7 1000.0,1003.9C1018.3,1004.1 1072.0,1004.7 1090.0,1004.8C1108.0,1004.9 1146.9,1004.9 1154.4,1004.9"/>
</g>
<g fill="none" stroke="#404040" stroke-width="1">
<rect x="558.3" y="197.7" width="56.4" height="27.3"/>
<rect x="674.0" y="213.3" width="56.7" height="29.0"/>
<rect x="942.3" y="230.0" width="55.4" height="28.3"/>
<rect x="550.0" y="272.7" width="56.7" height="28.0"/>
<rect x="622.3" y="282.7" width="56.4" height="28.3"/>
<rect x="942.3" y="289.3" width="56.4" height="28.4"/>
<rect x="558.3" y="355.3" width="56.4" height="29.0"/>
<rect x="798.3" y="372.3" width="55.0" height="28.7"/>
<rect x="954.3" y="380.0" width="55.4" height="28.0"/>
<rect x="543.3" y="472.7" width="55.4" height="28.6"/>
<rect x="810.0" y="510.7" width="55.7" height="27.6"/>
<rect x="922.7" y="496.7" width="55.0" height="28.3"/>
<rect x="543.3" y="556.0" width="55.4" height="29.3"/>
<rect x="938.3" y="571.7" width="55.4" height="28.6"/>
<rect x="515.7" y="613.3" width="55.0" height="28.0"/>
<rect x="946.7" y="634.0" width="55.0" height="28.7"/>
<rect x="714.3" y="685.7" width="56.4" height="28.6"/>
<rect x="554.3" y="721.7" width="56.4" height="28.3"/>
<rect x="746.7" y="756.7" width="55.0" height="29.0"/>
<rect x="543.3" y="776.7" width="55.4" height="29.0"/>
<rect x="754.2" y="822.6" width="55.4" height="28.8"/>
<rect x="1062.0" y="901.3" width="55.7" height="29.2"/>
<rect x="554.3" y="874.5" width="56.5" height="28.7"/>
<rect x="1038.2" y="970.4" width="55.6" height="28.9"/>
</g>
<g fill="#404040" font-size="27" text-anchor="middle">
<text x="586.5" y="220.3" textLength="46" lengthAdjust="spacingAndGlyphs" stroke="#fff" stroke-width="0.5" paint-order="fill stroke">328</text>
<text x="702.4" y="236.8" textLength="46" lengthAdjust="spacingAndGlyphs" stroke="#fff" stroke-width="0.5" paint-order="fill stroke">328</text>
<text x="970.0" y="253.2" textLength="46" lengthAdjust="spacingAndGlyphs" stroke="#fff" stroke-width="0.5" paint-order="fill stroke">328</text>
<text x="578.4" y="295.7" textLength="46" lengthAdjust="spacingAndGlyphs" stroke="#fff" stroke-width="0.5" paint-order="fill stroke">324</text>
<text x="650.5" y="305.9" textLength="46" lengthAdjust="spacingAndGlyphs" stroke="#fff" stroke-width="0.5" paint-order="fill stroke">324</text>
<text x="970.5" y="312.5" textLength="46" lengthAdjust="spacingAndGlyphs" stroke="#fff" stroke-width="0.5" paint-order="fill stroke">324</text>
<text x="586.5" y="378.8" textLength="46" lengthAdjust="spacingAndGlyphs" stroke="#fff" stroke-width="0.5" paint-order="fill stroke">320</text>
<text x="825.8" y="395.6" textLength="46" lengthAdjust="spacingAndGlyphs" stroke="#fff" stroke-width="0.5" paint-order="fill stroke">320</text>
<text x="982.0" y="403.0" textLength="46" lengthAdjust="spacingAndGlyphs" stroke="#fff" stroke-width="0.5" paint-order="fill stroke">320</text>
<text x="571.0" y="496.0" textLength="46" lengthAdjust="spacingAndGlyphs" stroke="#fff" stroke-width="0.5" paint-order="fill stroke">316</text>
<text x="837.9" y="533.5" textLength="46" lengthAdjust="spacingAndGlyphs" stroke="#fff" stroke-width="0.5" paint-order="fill stroke">316</text>
<text x="950.2" y="519.9" textLength="46" lengthAdjust="spacingAndGlyphs" stroke="#fff" stroke-width="0.5" paint-order="fill stroke">316</text>
<text x="571.0" y="579.6" textLength="46" lengthAdjust="spacingAndGlyphs" stroke="#fff" stroke-width="0.5" paint-order="fill stroke">312</text>
<text x="966.0" y="595.0" textLength="46" lengthAdjust="spacingAndGlyphs" stroke="#fff" stroke-width="0.5" paint-order="fill stroke">312</text>
<text x="543.2" y="636.3" textLength="46" lengthAdjust="spacingAndGlyphs" stroke="#fff" stroke-width="0.5" paint-order="fill stroke">308</text>
<text x="974.2" y="657.4" textLength="46" lengthAdjust="spacingAndGlyphs" stroke="#fff" stroke-width="0.5" paint-order="fill stroke">308</text>
<text x="742.5" y="709.0" textLength="46" lengthAdjust="spacingAndGlyphs" stroke="#fff" stroke-width="0.5" paint-order="fill stroke">304</text>
<text x="582.5" y="744.9" textLength="46" lengthAdjust="spacingAndGlyphs" stroke="#fff" stroke-width="0.5" paint-order="fill stroke">300</text>
<text x="774.2" y="780.2" textLength="46" lengthAdjust="spacingAndGlyphs" stroke="#fff" stroke-width="0.5" paint-order="fill stroke">300</text>
<text x="571.0" y="800.2" textLength="46" lengthAdjust="spacingAndGlyphs" stroke="#fff" stroke-width="0.5" paint-order="fill stroke">296</text>
<text x="781.9" y="846.0" textLength="46" lengthAdjust="spacingAndGlyphs" fill-opacity="0.75">296</text>
<text x="1089.8" y="924.9" textLength="46" lengthAdjust="spacingAndGlyphs" fill-opacity="0.75">296</text>
<text x="582.5" y="897.9" textLength="46" lengthAdjust="spacingAndGlyphs" fill-opacity="0.75">292</text>
<text x="1066.0" y="993.8" textLength="46" lengthAdjust="spacingAndGlyphs" fill-opacity="0.75">292</text>
</g>
<g fill="none" stroke="#000" stroke-width="1.7" stroke-linecap="butt">
<path d="M194.0,240.7L282.7,247.7M259.9,255.3L282.7,247.7L261.4,236.6"/>
<path d="M282.0,249.0L367.7,252.0M346.1,260.3L367.7,252.0L346.7,242.2"/>
<path d="M370.0,250.0L453.3,258.3M431.7,265.0L453.3,258.3L433.5,247.4"/>
<path d="M458.3,256.0L541.7,267.7M519.7,273.6L541.7,267.7L522.2,256.0"/>
<path d="M546.0,257.7L628.3,255.5M608.1,264.7L628.3,255.5L607.6,247.4"/>
<path d="M634.3,258.0L714.3,252.7M695.0,262.5L714.3,252.7L693.9,245.6"/>
<path d="M722.3,257.7L801.7,254.7M782.3,263.8L801.7,254.7L781.6,247.1"/>
<path d="M810.0,259.3L885.0,260.7M866.2,268.3L885.0,260.7L866.5,252.4"/>
<path d="M897.7,259.0L972.3,275.0M952.1,278.9L972.3,275.0L955.4,263.2"/>
<path d="M985.7,259.0L1061.0,257.3M1042.5,265.7L1061.0,257.3L1042.1,249.8"/>
<path d="M1074.0,259.0L1145.7,240.0M1129.9,252.3L1145.7,240.0L1125.9,237.2"/>
<path d="M194.0,303.3L275.7,312.7M254.4,319.0L275.7,312.7L256.4,301.7"/>
<path d="M282.0,312.3L362.7,324.0M341.4,329.6L362.7,324.0L343.9,312.6"/>
<path d="M370.0,313.3L447.7,323.7M427.3,329.3L447.7,323.7L429.5,312.9"/>
<path d="M458.3,321.7L534.3,330.0M514.5,336.0L534.3,330.0L516.3,319.9"/>
<path d="M546.0,322.7L625.0,319.3M605.7,328.5L625.0,319.3L605.0,311.8"/>
<path d="M634.3,323.7L710.7,316.0M692.5,326.0L710.7,316.0L690.9,309.9"/>
<path d="M722.3,323.0L797.7,321.0M779.2,329.5L797.7,321.0L778.7,313.5"/>
<path d="M810.0,324.7L880.7,324.0M863.2,331.6L880.7,324.0L863.1,316.7"/>
<path d="M897.7,324.3L967.7,338.3M948.8,342.2L967.7,338.3L951.8,327.4"/>
<path d="M985.7,325.0L1053.3,325.7M1036.4,332.7L1053.3,325.7L1036.6,318.4"/>
<path d="M1074.0,325.0L1139.0,322.7M1123.1,330.1L1139.0,322.7L1122.6,316.4"/>
<path d="M194.0,372.3L271.7,383.3M251.2,388.8L271.7,383.3L253.5,372.4"/>
<path d="M282.0,382.7L358.7,404.0M337.4,406.8L358.7,404.0L341.9,390.6"/>
<path d="M370.0,384.3L445.0,399.0M424.8,403.3L445.0,399.0L427.9,387.4"/>
<path d="M458.3,395.0L531.7,400.7M512.9,407.0L531.7,400.7L514.1,391.5"/>
<path d="M546.0,396.0L620.7,392.7M602.5,401.4L620.7,392.7L601.8,385.6"/>
<path d="M634.3,396.7L707.3,388.3M690.0,398.1L707.3,388.3L688.3,382.7"/>
<path d="M722.3,395.7L794.3,395.7M776.4,403.3L794.3,395.7L776.4,388.1"/>
<path d="M810.0,397.7L875.7,396.7M859.5,403.9L875.7,396.7L859.3,390.0"/>
<path d="M897.7,398.3L960.0,406.0M943.7,410.7L960.0,406.0L945.3,397.5"/>
<path d="M985.7,398.3L1046.7,399.3M1031.4,405.5L1046.7,399.3L1031.6,392.6"/>
<path d="M1074.0,397.7L1133.3,406.0M1117.7,410.2L1133.3,406.0L1119.4,397.7"/>
<path d="M194.0,450.0L267.3,462.7M247.7,467.3L267.3,462.7L250.4,451.8"/>
<path d="M282.0,461.7L355.0,493.3M333.5,493.1L355.0,493.3L340.2,477.7"/>
<path d="M370.0,463.3L442.3,481.0M422.5,484.2L442.3,481.0L426.2,469.0"/>
<path d="M458.3,472.0L528.3,483.3M509.7,487.9L528.3,483.3L512.1,473.1"/>
<path d="M546.0,477.6L616.9,472.9M599.8,481.5L616.9,472.9L598.8,466.6"/>
<path d="M634.3,477.3L704.3,468.3M687.9,477.9L704.3,468.3L686.0,463.2"/>
<path d="M722.3,476.7L791.7,476.7M774.5,484.0L791.7,476.7L774.5,469.4"/>
<path d="M810.0,479.3L874.3,478.3M858.4,485.3L874.3,478.3L858.2,471.8"/>
<path d="M897.7,479.0L958.3,484.0M942.7,489.2L958.3,484.0L943.8,476.4"/>
<path d="M985.7,479.0L1044.3,479.0M1029.7,485.2L1044.3,479.0L1029.7,472.8"/>
<path d="M1074.0,480.7L1132.3,482.7M1117.6,488.4L1132.3,482.7L1118.0,476.1"/>
<path d="M194.0,535.7L256.7,546.7M240.0,550.6L256.7,546.7L242.3,537.4"/>
<path d="M282.0,549.3L345.7,589.3M325.6,586.1L345.7,589.3L334.1,572.6"/>
<path d="M370.0,552.3L434.3,568.3M416.6,571.1L434.3,568.3L420.0,557.5"/>
<path d="M458.3,564.0L521.0,577.7M504.0,580.9L521.0,577.7L506.9,567.7"/>
<path d="M546.0,568.3L608.3,562.7M593.4,570.7L608.3,562.7L592.2,557.5"/>
<path d="M634.3,568.3L699.3,555.5M684.5,565.5L699.3,555.5L681.8,551.8"/>
<path d="M722.3,567.5L786.7,566.7M770.8,573.7L786.7,566.7L770.6,560.1"/>
<path d="M810.0,570.0L872.7,569.3M857.2,576.1L872.7,569.3L857.0,562.9"/>
<path d="M897.7,570.0L955.7,566.7M941.6,573.6L955.7,566.7L940.9,561.4"/>
<path d="M985.7,570.0L1045.7,566.7M1031.1,573.9L1045.7,566.7L1030.4,561.2"/>
<path d="M1074.0,570.0L1134.3,570.7M1119.2,576.9L1134.3,570.7L1119.4,564.2"/>
<path d="M194.0,630.0L242.3,639.3M229.3,642.1L242.3,639.3L231.3,631.9"/>
<path d="M282.0,647.3L332.3,688.3M315.5,683.4L332.3,688.3L324.1,672.8"/>
<path d="M370.0,649.0L422.3,660.7M408.1,663.3L422.3,660.7L410.5,652.3"/>
<path d="M458.3,664.0L509.3,679.0M495.0,680.7L509.3,679.0L498.2,669.9"/>
<path d="M546.0,667.7L600.0,662.3M587.1,669.3L600.0,662.3L586.0,657.9"/>
<path d="M634.3,669.0L691.7,655.0M678.9,664.5L691.7,655.0L676.0,652.4"/>
<path d="M722.3,668.3L776.7,673.3M762.7,677.8L776.7,673.3L763.7,666.3"/>
<path d="M810.0,671.0L864.3,665.0M851.4,672.2L864.3,665.0L850.2,660.8"/>
<path d="M897.7,671.0L957.7,660.0M943.9,669.1L957.7,660.0L941.6,656.4"/>
<path d="M985.7,671.0L1044.5,673.0M1029.7,678.7L1044.5,673.0L1030.1,666.3"/>
<path d="M1074.0,670.5L1127.8,664.0M1115.1,671.3L1127.8,664.0L1113.7,659.9"/>
<path d="M194.0,722.7L233.3,729.0M222.9,731.6L233.3,729.0L224.2,723.3"/>
<path d="M282.0,741.7L325.0,779.0M310.4,774.3L325.0,779.0L318.2,765.2"/>
<path d="M370.0,744.0L414.3,748.0M402.9,751.7L414.3,748.0L403.7,742.3"/>
<path d="M458.3,760.0L501.7,770.0M489.9,772.1L501.7,770.0L492.0,762.9"/>
<path d="M546.0,765.0L583.5,761.0M574.6,766.0L583.5,761.0L573.8,758.0"/>
<path d="M634.3,766.0L669.0,762.8M660.7,767.3L669.0,762.8L660.0,759.9"/>
<path d="M722.3,765.7L755.0,772.8M746.1,774.5L755.0,772.8L747.6,767.6"/>
<path d="M810.0,767.7L846.6,755.8M838.8,762.6L846.6,755.8L836.2,754.9"/>
<path d="M897.7,767.7L929.2,768.6M921.3,771.7L929.2,768.6L921.5,765.1"/>
<path d="M985.7,769.0L1017.7,786.0M1008.0,785.2L1017.7,786.0L1011.5,778.4"/>
<path d="M1074.0,770.3L1117.6,771.7M1106.6,776.0L1117.6,771.7L1106.9,766.8"/>
<path d="M194.0,780.0L231.7,787.7M221.5,789.8L231.7,787.7L223.1,781.8"/>
<path d="M282.0,799.3L320.0,832.3M307.1,828.1L320.0,832.3L314.0,820.1"/>
<path d="M370.0,802.7L407.3,803.3M398.0,807.1L407.3,803.3L398.1,799.2"/>
<path d="M458.3,820.7L493.3,824.3M484.2,827.1L493.3,824.3L485.0,819.7"/>
<path d="M546.0,825.7L581.7,825.8M572.8,829.5L581.7,825.8L572.8,822.0"/>
<path d="M634.3,825.8L670.0,824.4M661.3,828.5L670.0,824.4L661.0,821.0"/>
<path d="M722.3,825.0L760.7,836.5M749.9,837.7L760.7,836.5L752.4,829.6"/>
<path d="M810.0,828.8L847.7,819.6M839.3,825.9L847.7,819.6L837.4,817.9"/>
<path d="M897.6,829.4L934.8,791.7M929.5,805.0L934.8,791.7L921.6,797.1"/>
<path d="M985.7,829.3L1024.8,832.7M1014.7,836.0L1024.8,832.7L1015.4,827.7"/>
<path d="M1074.0,830.9L1116.7,830.3M1106.2,835.0L1116.7,830.3L1106.0,825.9"/>
<path d="M194.0,864.3L232.7,875.0M222.0,876.4L232.7,875.0L224.2,868.3"/>
<path d="M282.0,886.7L319.3,910.0M307.6,908.1L319.3,910.0L312.5,900.3"/>
<path d="M370.0,889.0L409.3,880.0M400.5,886.4L409.3,880.0L398.6,878.1"/>
<path d="M458.3,909.0L497.3,909.3M487.6,913.3L497.3,909.3L487.6,905.1"/>
<path d="M546.0,915.0L582.5,915.6M573.4,919.3L582.5,915.6L573.5,911.6"/>
<path d="M634.3,916.3L671.6,920.7M661.9,923.5L671.6,920.7L662.8,915.7"/>
<path d="M722.0,914.7L759.7,927.3M749.0,928.1L759.7,927.3L751.7,920.2"/>
<path d="M810.0,919.0L847.3,916.7M838.3,921.2L847.3,916.7L837.8,913.3"/>
<path d="M897.7,919.3L936.7,877.7M931.4,892.2L936.7,877.7L922.6,883.9"/>
<path d="M985.7,918.5L1026.0,918.0M1016.0,922.4L1026.0,918.0L1015.9,913.9"/>
<path d="M1074.0,920.5L1105.0,904.0M1099.0,911.4L1105.0,904.0L1095.6,904.8"/>
<path d="M194.0,940.0L205.0,941.0M200.2,942.5L205.0,941.0L200.6,938.6"/>
<path d="M282.0,965.0L294.3,968.3M289.3,969.0L294.3,968.3L290.4,965.2"/>
<path d="M370.0,966.7L382.7,964.0M378.6,966.9L382.7,964.0L377.8,963.0"/>
<path d="M458.3,988.3L470.0,990.7M465.1,991.7L470.0,990.7L465.9,987.9"/>
<path d="M546.0,995.0L557.7,995.0M553.1,997.0L557.7,995.0L553.1,993.0"/>
<path d="M634.3,996.7L645.0,999.3M640.1,1000.1L645.0,999.3L641.0,996.3"/>
<path d="M722.3,994.0L732.3,998.3M727.3,998.3L732.3,998.3L728.8,994.7"/>
<path d="M810.0,999.3L826.7,999.3M822.1,1001.3L826.7,999.3L822.1,997.3"/>
<path d="M897.7,999.3L917.3,999.3M912.4,1001.4L917.3,999.3L912.4,997.2"/>
<path d="M985.7,1000.0L997.7,1000.0M993.1,1002.0L997.7,1000.0L993.1,998.0"/>
<path d="M1073.3,1000.4L1083.3,1000.0M1078.8,1002.1L1083.3,1000.0L1078.6,998.2"/>
</g>
<g stroke="#000" stroke-width="1" fill="none" shape-rendering="crispEdges">
<rect x="194.5" y="179.5" width="960.0" height="876.0"/>
<path d="M194.5,191.5h6.5M1154.5,191.5h-6.5M194.5,203.5h6.5M1154.5,203.5h-6.5M194.5,215.5h6.5M1154.5,215.5h-6.5M194.5,227.5h6.5M1154.5,227.5h-6.5M194.5,239.5h6.5M1154.5,239.5h-6.5M194.5,250.5h6.5M1154.5,250.5h-6.5M194.5,262.5h6.5M1154.5,262.5h-6.5M194.5,274.5h6.5M1154.5,274.5h-6.5M194.5,286.5h6.5M1154.5,286.5h-6.5M194.5,298.5h12.5M1154.5,298.5h-12.5M194.5,310.5h6.5M1154.5,310.5h-6.5M194.5,321.5h6.5M1154.5,321.5h-6.5M194.5,333.5h6.5M1154.5,333.5h-6.5M194.5,345.5h6.5M1154.5,345.5h-6.5M194.5,357.5h6.5M1154.5,357.5h-6.5M194.5,369.5h6.5M1154.5,369.5h-6.5M194.5,381.5h6.5M1154.5,381.5h-6.5M194.5,392.5h6.5M1154.5,392.5h-6.5M194.5,404.5h6.5M1154.5,404.5h-6.5M194.5,416.5h12.5M1154.5,416.5h-12.5M194.5,428.5h6.5M1154.5,428.5h-6.5M194.5,440.5h6.5M1154.5,440.5h-6.5M194.5,451.5h6.5M1154.5,451.5h-6.5M194.5,463.5h6.5M1154.5,463.5h-6.5M194.5,475.5h6.5M1154.5,475.5h-6.5M194.5,487.5h6.5M1154.5,487.5h-6.5M194.5,499.5h6.5M1154.5,499.5h-6.5M194.5,511.5h6.5M1154.5,511.5h-6.5M194.5,522.5h6.5M1154.5,522.5h-6.5M194.5,534.5h12.5M1154.5,534.5h-12.5M194.5,546.5h6.5M1154.5,546.5h-6.5M194.5,558.5h6.5M1154.5,558.5h-6.5M194.5,570.5h6.5M1154.5,570.5h-6.5M194.5,582.5h6.5M1154.5,582.5h-6.5M194.5,593.5h6.5M1154.5,593.5h-6.5M194.5,605.5h6.5M1154.5,605.5h-6.5M194.5,617.5h6.5M1154.5,617.5h-6.5M194.5,629.5h6.5M1154.5,629.5h-6.5M194.5,641.5h6.5M1154.5,641.5h-6.5M194.5,653.5h12.5M1154.5,653.5h-12.5M194.5,664.5h6.5M1154.5,664.5h-6.5M194.5,676.5h6.5M1154.5,676.5h-6.5M194.5,688.5h6.5M1154.5,688.5h-6.5M194.5,700.5h6.5M1154.5,700.5h-6.5M194.5,712.5h6.5M1154.5,712.5h-6.5M194.5,723.5h6.5M1154.5,723.5h-6.5M194.5,735.5h6.5M1154.5,735.5h-6.5M194.5,747.5h6.5M1154.5,747.5h-6.5M194.5,759.5h6.5M1154.5,759.5h-6.5M194.5,771.5h12.5M1154.5,771.5h-12.5M194.5,783.5h6.5M1154.5,783.5h-6.5M194.5,794.5h6.5M1154.5,794.5h-6.5M194.5,806.5h6.5M1154.5,806.5h-6.5M194.5,818.5h6.5M1154.5,818.5h-6.5M194.5,830.5h6.5M1154.5,830.5h-6.5M194.5,842.5h6.5M1154.5,842.5h-6.5M194.5,854.5h6.5M1154.5,854.5h-6.5M194.5,865.5h6.5M1154.5,865.5h-6.5M194.5,877.5h6.5M1154.5,877.5h-6.5M194.5,889.5h12.5M1154.5,889.5h-12.5M194.5,901.5h6.5M1154.5,901.5h-6.5M194.5,913.5h6.5M1154.5,913.5h-6.5M194.5,924.5h6.5M1154.5,924.5h-6.5M194.5,936.5h6.5M1154.5,936.5h-6.5M194.5,948.5h6.5M1154.5,948.5h-6.5M194.5,960.5h6.5M1154.5,960.5h-6.5M194.5,972.5h6.5M1154.5,972.5h-6.5M194.5,984.5h6.5M1154.5,984.5h-6.5M194.5,995.5h6.5M1154.5,995.5h-6.5M194.5,1007.5h12.5M1154.5,1007.5h-12.5M194.5,1019.5h6.5M1154.5,1019.5h-6.5M194.5,1031.5h6.5M1154.5,1031.5h-6.5M194.5,1043.5h6.5M1154.5,1043.5h-6.5M194.5,179.5v12.5M194.5,1055.5v-12.5M214.5,179.5v6.5M214.5,1055.5v-6.5M234.5,179.5v6.5M234.5,1055.5v-6.5M253.5,179.5v6.5M253.5,1055.5v-6.5M273.5,179.5v6.5M273.5,1055.5v-6.5M293.5,179.5v6.5M293.5,1055.5v-6.5M313.5,179.5v6.5M313.5,1055.5v-6.5M333.5,179.5v6.5M333.5,1055.5v-6.5M353.5,179.5v6.5M353.5,1055.5v-6.5M373.5,179.5v6.5M373.5,1055.5v-6.5M392.5,179.5v12.5M392.5,1055.5v-12.5M412.5,179.5v6.5M412.5,1055.5v-6.5M432.5,179.5v6.5M432.5,1055.5v-6.5M452.5,179.5v6.5M452.5,1055.5v-6.5M472.5,179.5v6.5M472.5,1055.5v-6.5M492.5,179.5v6.5M492.5,1055.5v-6.5M512.5,179.5v6.5M512.5,1055.5v-6.5M531.5,179.5v6.5M531.5,1055.5v-6.5M551.5,179.5v6.5M551.5,1055.5v-6.5M571.5,179.5v6.5M571.5,1055.5v-6.5M591.5,179.5v12.5M591.5,1055.5v-12.5M611.5,179.5v6.5M611.5,1055.5v-6.5M631.5,179.5v6.5M631.5,1055.5v-6.5M651.5,179.5v6.5M651.5,1055.5v-6.5M670.5,179.5v6.5M670.5,1055.5v-6.5M690.5,179.5v6.5M690.5,1055.5v-6.5M710.5,179.5v6.5M710.5,1055.5v-6.5M730.5,179.5v6.5M730.5,1055.5v-6.5M750.5,179.5v6.5M750.5,1055.5v-6.5M770.5,179.5v6.5M770.5,1055.5v-6.5M789.5,179.5v12.5M789.5,1055.5v-12.5M809.5,179.5v6.5M809.5,1055.5v-6.5M829.5,179.5v6.5M829.5,1055.5v-6.5M849.5,179.5v6.5M849.5,1055.5v-6.5M869.5,179.5v6.5M869.5,1055.5v-6.5M889.5,179.5v6.5M889.5,1055.5v-6.5M909.5,179.5v6.5M909.5,1055.5v-6.5M928.5,179.5v6.5M928.5,1055.5v-6.5M948.5,179.5v6.5M948.5,1055.5v-6.5M968.5,179.5v6.5M968.5,1055.5v-6.5M988.5,179.5v12.5M988.5,1055.5v-12.5M1008.5,179.5v6.5M1008.5,1055.5v-6.5M1028.5,179.5v6.5M1028.5,1055.5v-6.5M1048.5,179.5v6.5M1048.5,1055.5v-6.5M1067.5,179.5v6.5M1067.5,1055.5v-6.5M1087.5,179.5v6.5M1087.5,1055.5v-6.5M1107.5,179.5v6.5M1107.5,1055.5v-6.5M1127.5,179.5v6.5M1127.5,1055.5v-6.5M1147.5,179.5v6.5M1147.5,1055.5v-6.5"/>
</g>
<g stroke="#000" stroke-width="1" shape-rendering="crispEdges">
<rect x="1190.5" y="179.5" width="19" height="175.0" fill="#007E00"/>
<rect x="1190.5" y="354.5" width="19" height="175.0" fill="#00BE00"/>
<rect x="1190.5" y="529.5" width="19" height="176.0" fill="#40FF40"/>
<rect x="1190.5" y="705.5" width="19" height="175.0" fill="#BDFFBD"/>
<rect x="1190.5" y="880.5" width="19" height="175.0" fill="#fff"/>
</g>
<text transform="translate(81.5,25.8) scale(1.14,1)" font-size="25.5" text-anchor="start" fill="#000" textLength="329.4" lengthAdjust="spacing" style="word-spacing:4.4px" stroke="#fff" stroke-width="0.3" paint-order="fill stroke" xml:space="preserve">Init: 00 UTC Thu 03 Dec 09</text>
<text transform="translate(1064,25.8) scale(1.14,1)" font-size="25.5" text-anchor="start" fill="#000" textLength="56.1" lengthAdjust="spacing" stroke="#fff" stroke-width="0.3" paint-order="fill stroke" xml:space="preserve">Fcst:</text>
<text transform="translate(1169,25.8) scale(1.14,1)" font-size="25.5" text-anchor="start" fill="#000" textLength="52.6" lengthAdjust="spacing" style="word-spacing:4.4px" stroke="#fff" stroke-width="0.3" paint-order="fill stroke" xml:space="preserve">13 h</text>
<text transform="translate(531,51.8) scale(1.14,1)" font-size="25.5" text-anchor="start" fill="#000" textLength="644.7" lengthAdjust="spacing" style="word-spacing:4.4px" stroke="#fff" stroke-width="0.3" paint-order="fill stroke" xml:space="preserve">Valid: 13 UTC Thu 03 Dec 09 (08 EST Thu 03 Dec 09)</text>
<text transform="translate(88,76.5) scale(1.14,1)" font-size="23.5" text-anchor="start" fill="#000" textLength="238.6" lengthAdjust="spacing" style="word-spacing:4.4px" stroke="#fff" stroke-width="0.3" paint-order="fill stroke" xml:space="preserve">Relative Humidity (%)</text>
<text transform="translate(88,101.7) scale(1.14,1)" font-size="23.5" text-anchor="start" fill="#404040" textLength="292.1" lengthAdjust="spacing" style="word-spacing:4.4px" stroke="#fff" stroke-width="0.3" paint-order="fill stroke" xml:space="preserve">Potential Temperature (K)</text>
<text transform="translate(88,125.5) scale(1.14,1)" font-size="23.5" text-anchor="start" fill="#000" textLength="212.3" lengthAdjust="spacing" style="word-spacing:4.4px" stroke="#fff" stroke-width="0.3" paint-order="fill stroke" xml:space="preserve">Circulation Vectors</text>
<text x="173.5" y="186.2" font-size="18.5" text-anchor="end" fill="#000" textLength="32.1" lengthAdjust="spacingAndGlyphs" stroke="#fff" stroke-width="0.15" paint-order="fill stroke" xml:space="preserve">300</text>
<text x="173.5" y="304.4" font-size="18.5" text-anchor="end" fill="#000" textLength="32.1" lengthAdjust="spacingAndGlyphs" stroke="#fff" stroke-width="0.15" paint-order="fill stroke" xml:space="preserve">400</text>
<text x="173.5" y="422.7" font-size="18.5" text-anchor="end" fill="#000" textLength="32.1" lengthAdjust="spacingAndGlyphs" stroke="#fff" stroke-width="0.15" paint-order="fill stroke" xml:space="preserve">500</text>
<text x="173.5" y="541.0" font-size="18.5" text-anchor="end" fill="#000" textLength="32.1" lengthAdjust="spacingAndGlyphs" stroke="#fff" stroke-width="0.15" paint-order="fill stroke" xml:space="preserve">600</text>
<text x="173.5" y="659.2" font-size="18.5" text-anchor="end" fill="#000" textLength="32.1" lengthAdjust="spacingAndGlyphs" stroke="#fff" stroke-width="0.15" paint-order="fill stroke" xml:space="preserve">700</text>
<text x="173.5" y="777.5" font-size="18.5" text-anchor="end" fill="#000" textLength="32.1" lengthAdjust="spacingAndGlyphs" stroke="#fff" stroke-width="0.15" paint-order="fill stroke" xml:space="preserve">800</text>
<text x="173.5" y="895.7" font-size="18.5" text-anchor="end" fill="#000" textLength="32.1" lengthAdjust="spacingAndGlyphs" stroke="#fff" stroke-width="0.15" paint-order="fill stroke" xml:space="preserve">900</text>
<text x="173.5" y="1014.0" font-size="18.5" text-anchor="end" fill="#000" textLength="42.8" lengthAdjust="spacingAndGlyphs" stroke="#fff" stroke-width="0.15" paint-order="fill stroke" xml:space="preserve">1000</text>
<text x="194.4" y="1079.5" font-size="18.5" text-anchor="middle" fill="#000" stroke="#fff" stroke-width="0.15" paint-order="fill stroke" xml:space="preserve">0</text>
<text x="392.9" y="1079.5" font-size="18.5" text-anchor="middle" fill="#000" textLength="31.5" lengthAdjust="spacingAndGlyphs" stroke="#fff" stroke-width="0.15" paint-order="fill stroke" xml:space="preserve">100</text>
<text x="591.5" y="1079.5" font-size="18.5" text-anchor="middle" fill="#000" textLength="31.5" lengthAdjust="spacingAndGlyphs" stroke="#fff" stroke-width="0.15" paint-order="fill stroke" xml:space="preserve">200</text>
<text x="790.0" y="1079.5" font-size="18.5" text-anchor="middle" fill="#000" textLength="31.5" lengthAdjust="spacingAndGlyphs" stroke="#fff" stroke-width="0.15" paint-order="fill stroke" xml:space="preserve">300</text>
<text x="988.5" y="1079.5" font-size="18.5" text-anchor="middle" fill="#000" textLength="31.5" lengthAdjust="spacingAndGlyphs" stroke="#fff" stroke-width="0.15" paint-order="fill stroke" xml:space="preserve">400</text>
<text x="195.5" y="1104.5" font-size="22.5" text-anchor="start" fill="#000" textLength="15.5" lengthAdjust="spacingAndGlyphs" stroke="#fff" stroke-width="0.3" paint-order="fill stroke" xml:space="preserve">W</text>
<text x="1154.5" y="1105" font-size="22.5" text-anchor="end" fill="#000" textLength="13.5" lengthAdjust="spacingAndGlyphs" stroke="#fff" stroke-width="0.3" paint-order="fill stroke" xml:space="preserve">E</text>
<text transform="translate(592,1105.5) scale(1.14,1)" font-size="23.5" text-anchor="start" fill="#000" textLength="143.0" lengthAdjust="spacing" style="word-spacing:4.4px" stroke="#fff" stroke-width="0.3" paint-order="fill stroke" xml:space="preserve">Distance (km)</text>
<text transform="translate(135.6,704) rotate(-90) scale(1.14,1)" font-size="23.5" textLength="150.9" lengthAdjust="spacing" style="word-spacing:5px" stroke="#fff" stroke-width="0.3" paint-order="fill stroke">Pressure (hPa)</text>
<text x="1225" y="188.3" font-size="25" text-anchor="start" fill="#000" textLength="15.0" lengthAdjust="spacingAndGlyphs" stroke="#fff" stroke-width="0.3" paint-order="fill stroke" xml:space="preserve">%</text>
<text x="1225" y="362" font-size="23.5" text-anchor="start" fill="#000" textLength="42.0" lengthAdjust="spacingAndGlyphs" stroke="#fff" stroke-width="0.3" paint-order="fill stroke" xml:space="preserve">100</text>
<text x="1225" y="537" font-size="23.5" text-anchor="start" fill="#000" textLength="28.0" lengthAdjust="spacingAndGlyphs" stroke="#fff" stroke-width="0.3" paint-order="fill stroke" xml:space="preserve">90</text>
<text x="1225" y="713" font-size="23.5" text-anchor="start" fill="#000" textLength="28.0" lengthAdjust="spacingAndGlyphs" stroke="#fff" stroke-width="0.3" paint-order="fill stroke" xml:space="preserve">80</text>
<text x="1225" y="888" font-size="23.5" text-anchor="start" fill="#000" textLength="28.0" lengthAdjust="spacingAndGlyphs" stroke="#fff" stroke-width="0.3" paint-order="fill stroke" xml:space="preserve">70</text>
<text x="341" y="1171.7" font-size="17.5" text-anchor="start" fill="#000" textLength="78.5" lengthAdjust="spacingAndGlyphs" stroke="#fff" stroke-width="0.15" paint-order="fill stroke" xml:space="preserve">MAXIMUM</text>
<text x="430" y="1171.7" font-size="17.5" text-anchor="start" fill="#000" textLength="69.6" lengthAdjust="spacingAndGlyphs" stroke="#fff" stroke-width="0.15" paint-order="fill stroke" xml:space="preserve">VECTOR:</text>
<text x="518.3" y="1171.7" font-size="17.5" text-anchor="start" fill="#000" textLength="35.6" lengthAdjust="spacingAndGlyphs" stroke="#fff" stroke-width="0.15" paint-order="fill stroke" xml:space="preserve">49.0</text>
<text x="564.8" y="1171.7" font-size="17.5" text-anchor="start" fill="#000" textLength="16.2" lengthAdjust="spacingAndGlyphs" stroke="#fff" stroke-width="0.15" paint-order="fill stroke" xml:space="preserve">m</text>
<text x="591.5" y="1171.7" font-size="17.5" text-anchor="start" fill="#000" textLength="6.8" lengthAdjust="spacingAndGlyphs" stroke="#fff" stroke-width="0.15" paint-order="fill stroke" xml:space="preserve">s</text>
<text x="625" y="1171.7" font-size="17.5" text-anchor="start" fill="#000" textLength="66.0" lengthAdjust="spacingAndGlyphs" stroke="#fff" stroke-width="0.15" paint-order="fill stroke" xml:space="preserve">(HORIZ)</text>
<text x="769.6" y="1171.7" font-size="17.5" text-anchor="start" fill="#000" textLength="34.4" lengthAdjust="spacingAndGlyphs" stroke="#fff" stroke-width="0.15" paint-order="fill stroke" xml:space="preserve">38.7</text>
<text x="814" y="1171.7" font-size="17.5" text-anchor="start" fill="#000" textLength="32.7" lengthAdjust="spacingAndGlyphs" stroke="#fff" stroke-width="0.15" paint-order="fill stroke" xml:space="preserve">dPa</text>
<text x="855.5" y="1171.7" font-size="17.5" text-anchor="start" fill="#000" textLength="6.8" lengthAdjust="spacingAndGlyphs" stroke="#fff" stroke-width="0.15" paint-order="fill stroke" xml:space="preserve">s</text>
<text x="891" y="1171.7" font-size="17.5" text-anchor="start" fill="#000" textLength="56.4" lengthAdjust="spacingAndGlyphs" stroke="#fff" stroke-width="0.15" paint-order="fill stroke" xml:space="preserve">(VERT)</text>
<text x="599.8" y="1165.5" font-size="12.5" text-anchor="start" fill="#000" textLength="13.5" lengthAdjust="spacingAndGlyphs" stroke="#fff" stroke-width="0.15" paint-order="fill stroke" xml:space="preserve">−1</text>
<text x="866" y="1165.5" font-size="12.5" text-anchor="start" fill="#000" textLength="13.5" lengthAdjust="spacingAndGlyphs" stroke="#fff" stroke-width="0.15" paint-order="fill stroke" xml:space="preserve">−1</text>
<text x="284" y="1190.4" font-size="17" text-anchor="start" fill="#404040" textLength="97.5" lengthAdjust="spacingAndGlyphs" stroke="#fff" stroke-width="0.15" paint-order="fill stroke" xml:space="preserve">CONTOURS:</text>
<text x="398" y="1190.4" font-size="17" text-anchor="start" fill="#404040" textLength="76.5" lengthAdjust="spacingAndGlyphs" stroke="#fff" stroke-width="0.15" paint-order="fill stroke" xml:space="preserve">UNITS=K</text>
<text x="492.3" y="1190.4" font-size="17" text-anchor="start" fill="#404040" textLength="46.0" lengthAdjust="spacingAndGlyphs" stroke="#fff" stroke-width="0.15" paint-order="fill stroke" xml:space="preserve">LOW=</text>
<text x="558" y="1190.4" font-size="17" text-anchor="start" fill="#404040" textLength="57.6" lengthAdjust="spacingAndGlyphs" stroke="#fff" stroke-width="0.15" paint-order="fill stroke" xml:space="preserve">288.00</text>
<text x="667.7" y="1190.4" font-size="17" text-anchor="start" fill="#404040" textLength="56.3" lengthAdjust="spacingAndGlyphs" stroke="#fff" stroke-width="0.15" paint-order="fill stroke" xml:space="preserve">HIGH=</text>
<text x="741" y="1190.4" font-size="17" text-anchor="start" fill="#404040" textLength="58.0" lengthAdjust="spacingAndGlyphs" stroke="#fff" stroke-width="0.15" paint-order="fill stroke" xml:space="preserve">400.00</text>
<text x="851.4" y="1190.4" font-size="17" text-anchor="start" fill="#404040" textLength="94.2" lengthAdjust="spacingAndGlyphs" stroke="#fff" stroke-width="0.15" paint-order="fill stroke" xml:space="preserve">INTERVAL=</text>
<text x="971" y="1190.4" font-size="17" text-anchor="start" fill="#404040" textLength="59.4" lengthAdjust="spacingAndGlyphs" stroke="#fff" stroke-width="0.15" paint-order="fill stroke" xml:space="preserve">4.0000</text>
<g fill="none" stroke="#000" stroke-width="1.8">
<path d="M1234,1166H1146M1165,1156.7L1146,1166L1165,1175.3M1234,1166.8V1126M1228.6,1134L1234,1125.6L1239.4,1134"/>
</g>
</svg>
</body></html>
